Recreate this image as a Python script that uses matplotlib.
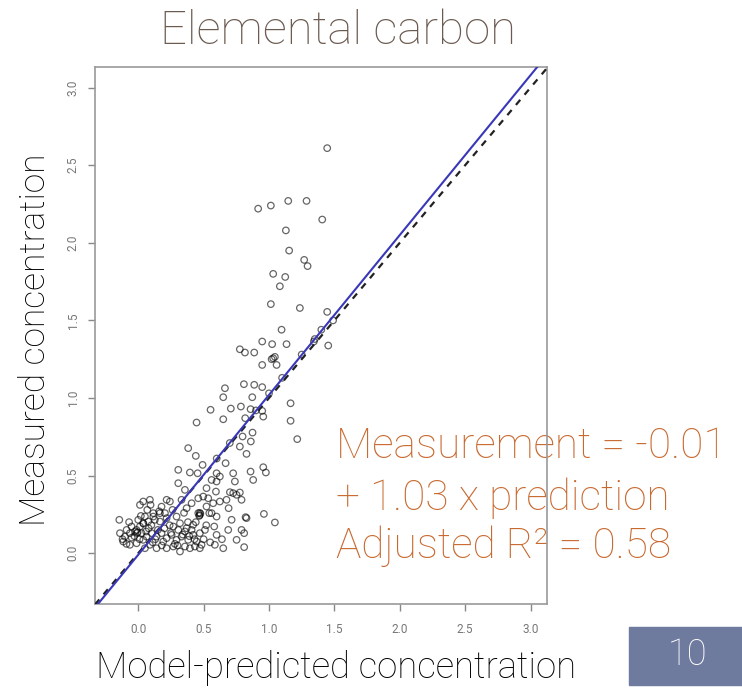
import numpy as np
import matplotlib.pyplot as plt
from matplotlib.patches import Rectangle

# Model-predicted vs measured elemental carbon concentrations
predicted = np.array([
    # high measured values
    1.445, 0.917, 1.014, 1.147, 1.287, 1.407, 1.129, 1.154, 1.269, 1.295,
    1.032, 1.124, 1.083, 1.014, 1.236, 1.445,
    # middle range
    1.096, 0.948, 1.024, 1.134, 0.777, 0.816, 0.887, 1.343, 1.453, 1.490,
    1.032, 1.020, 1.045, 0.948, 1.058, 0.663, 0.650, 0.808, 0.887, 0.948,
    0.872, 1.165, 0.553, 0.708, 0.785, 0.859, 0.948, 0.818, 0.650, 0.446,
    0.956, 1.165, 1.216, 0.874, 0.798, 0.861, 0.777, 0.382, 0.440, 0.828,
    0.668, 0.492, 0.306, 0.395, 0.454, 0.599, 0.726, 0.859, 0.956, 0.976,
    0.561, 0.624, 0.739, 0.879, 0.306, 0.357, 0.594, 0.522, 0.701, 0.777,
    0.497, 0.535, 0.459, 0.624, 0.790, 0.242, 0.178, 0.094, 0.013, 0.262,
    0.459, 0.543, 0.466, 0.470, 0.691, 0.821, 0.961, 1.045,
    # close to the fitted line
    0.600, 0.700, 0.900, 1.000, 1.100, 1.250, 1.350, 1.400,
    # low cluster
    -0.145, 0.000, 0.051, 0.076, 0.115, 0.127, 0.166, 0.217, 0.268, 0.319,
    0.370, 0.420, 0.471, 0.510, 0.581, 0.599, 0.688, 0.790, 0.810, -0.140,
    -0.102, -0.064, -0.025, -0.115, -0.064, -0.013, 0.038, 0.051, 0.089, 0.140,
    0.191, 0.217, 0.268, 0.319, 0.357, 0.395, 0.433, 0.471, 0.484, 0.586,
    0.650, 0.752, 0.810, -0.013, 0.013, -0.051, -0.089, 0.025, 0.064, 0.102,
    0.140, 0.178, 0.217, 0.255, 0.293, 0.331, 0.382, 0.420, 0.446, 0.408,
    0.357, 0.306, 0.069, 0.089, 0.038, 0.115, 0.166, 0.204, 0.217, 0.331,
    0.408, 0.370, 0.293, 0.561, 0.599, 0.522, 0.675, 0.752, 0.726, 0.599,
    0.828, 0.573, 0.714, 0.037, 0.040, -0.010, -0.005, 0.470, 0.475,
    # extra overlapping points in the dense corner
    -0.120, -0.090, -0.050, -0.030, 0.010, 0.060, 0.080, 0.110, 0.150, 0.180,
    0.240, 0.280, 0.340, 0.380, 0.430, 0.520, 0.550, 0.640, 0.020, 0.100,
    0.160, 0.250, 0.300, 0.350, 0.440, 0.500, -0.070, 0.130, 0.200, 0.390,
])

measured = np.array([
    2.610, 2.220, 2.240, 2.270, 2.270, 2.150, 2.080, 1.950, 1.890, 1.850,
    1.800, 1.780, 1.720, 1.605, 1.580, 1.555,
    1.440, 1.364, 1.347, 1.347, 1.314, 1.293, 1.293, 1.364, 1.338, 1.500,
    1.256, 1.250, 1.265, 1.213, 1.213, 1.063, 1.005, 1.089, 1.085, 1.070,
    1.005, 0.966, 0.924, 0.932, 0.945, 0.928, 0.917, 0.870, 0.863, 0.842,
    0.880, 0.853, 0.735, 0.777, 0.752, 0.720, 0.687, 0.677, 0.627, 0.640,
    0.580, 0.569, 0.537, 0.520, 0.515, 0.515, 0.515, 0.526, 0.554, 0.520,
    0.472, 0.494, 0.462, 0.472, 0.451, 0.408, 0.397, 0.419, 0.393, 0.391,
    0.365, 0.354, 0.354, 0.333, 0.344, 0.333, 0.300, 0.311, 0.311, 0.279,
    0.258, 0.258, 0.240, 0.245, 0.290, 0.232, 0.253, 0.198,
    0.610, 0.710, 0.920, 1.030, 1.130, 1.280, 1.380, 1.440,
    0.215, 0.215, 0.236, 0.204, 0.258, 0.215, 0.204, 0.226, 0.172, 0.193,
    0.161, 0.183, 0.129, 0.150, 0.172, 0.118, 0.150, 0.150, 0.129, 0.129,
    0.107, 0.129, 0.140, 0.075, 0.054, 0.064, 0.086, 0.032, 0.054, 0.032,
    0.075, 0.032, 0.043, 0.011, 0.043, 0.032, 0.043, 0.032, 0.054, 0.054,
    0.032, 0.086, 0.039, 0.150, 0.172, 0.172, 0.150, 0.129, 0.107, 0.129,
    0.107, 0.129, 0.097, 0.118, 0.086, 0.107, 0.086, 0.118, 0.075, 0.150,
    0.140, 0.150, 0.279, 0.344, 0.333, 0.236, 0.258, 0.258, 0.344, 0.344,
    0.322, 0.290, 0.236, 0.258, 0.236, 0.301, 0.344, 0.376, 0.387, 0.462,
    0.226, 0.322, 0.215, 0.194, 0.190, 0.130, 0.135, 0.260, 0.255,
    0.090, 0.060, 0.100, 0.110, 0.090, 0.140, 0.160, 0.070, 0.150, 0.050,
    0.180, 0.060, 0.120, 0.200, 0.090, 0.180, 0.070, 0.090, 0.240, 0.180,
    0.270, 0.130, 0.050, 0.260, 0.200, 0.090, 0.200, 0.090, 0.160, 0.110,
])

# fitted regression: measurement = intercept + slope * prediction
intercept = -0.01
slope = 1.03
r2_adj = 0.58

tick_values = [0.0, 0.5, 1.0, 1.5, 2.0, 2.5, 3.0]
tick_labels = ["0.0", "0.5", "1.0", "1.5", "2.0", "2.5", "3.0"]

title_text = "Elemental carbon"
xlabel_text = "Model-predicted concentration"
ylabel_text = "Measured concentration"
slide_number = "10"

plt.rcParams['font.family'] = ['Roboto', 'DejaVu Sans']

fig = plt.figure(figsize=(7.42, 6.91), dpi=100)
ax = fig.add_axes([0.128, 0.126, 0.609, 0.7775])

xmin, xmax = -0.331, 3.125
ymin, ymax = -0.327, 3.135

ax.scatter(predicted, measured, s=22, facecolors='none', edgecolors='black',
           linewidths=0.9, alpha=0.6, zorder=3)

# 1:1 reference line and fitted line
ref = np.array([xmin, xmax])
ax.plot(ref, ref, color='#222222', lw=1.6, ls=(0, (3, 3)), zorder=4)
ax.plot(ref, intercept + slope * ref, color='#3838b8', lw=1.5, zorder=5)

ax.set_xlim(xmin, xmax)
ax.set_ylim(ymin, ymax)
ax.set_xticks(tick_values)
ax.set_xticklabels(tick_labels)
ax.set_yticks(tick_values)
ax.set_yticklabels(tick_labels, rotation=90, va='center')
ax.tick_params(axis='both', direction='out', length=5, width=1,
               colors='#888888', labelsize=8.5, labelcolor='#777777')
ax.tick_params(axis='x', pad=9)
ax.tick_params(axis='y', pad=6)
for sp in ax.spines.values():
    sp.set_color('#999999')
    sp.set_linewidth(1.2)

# equation lines, drawn beneath the frame
eq_lines = [f"Measurement = {intercept:.2f}",
            f"+ {slope:.2f} x prediction",
            f"Adjusted R\u00b2 = {r2_adj:.2f}"]
eq_y = [0.3372, 0.2619, 0.1925]
for line, yy in zip(eq_lines, eq_y):
    ax.text(0.453, yy, line, transform=fig.transFigure, color='#c8692f',
            fontsize=30.5, fontweight='light', va='baseline', ha='left',
            zorder=2, clip_on=False)

fig.text(0.455, 0.955, title_text, ha='center', va='center', fontsize=34,
         color='#6b5a50', fontweight='light')
fig.text(0.047, 0.508, ylabel_text, ha='center', va='center', rotation=90,
         fontsize=25.5, color='black', fontweight='light')
fig.text(0.453, 0.033, xlabel_text, ha='center', va='center', fontsize=26.3,
         color='black', fontweight='light')

# slide number box
fig.patches.append(Rectangle((0.848, 0.0087), 0.152, 0.084,
                             transform=fig.transFigure, color='#6e7a9e'))
fig.text(0.926, 0.052, slide_number, ha='center', va='center', fontsize=26,
         color='white', fontweight='light')

fig.savefig('out.png', dpi=100, facecolor='white')
